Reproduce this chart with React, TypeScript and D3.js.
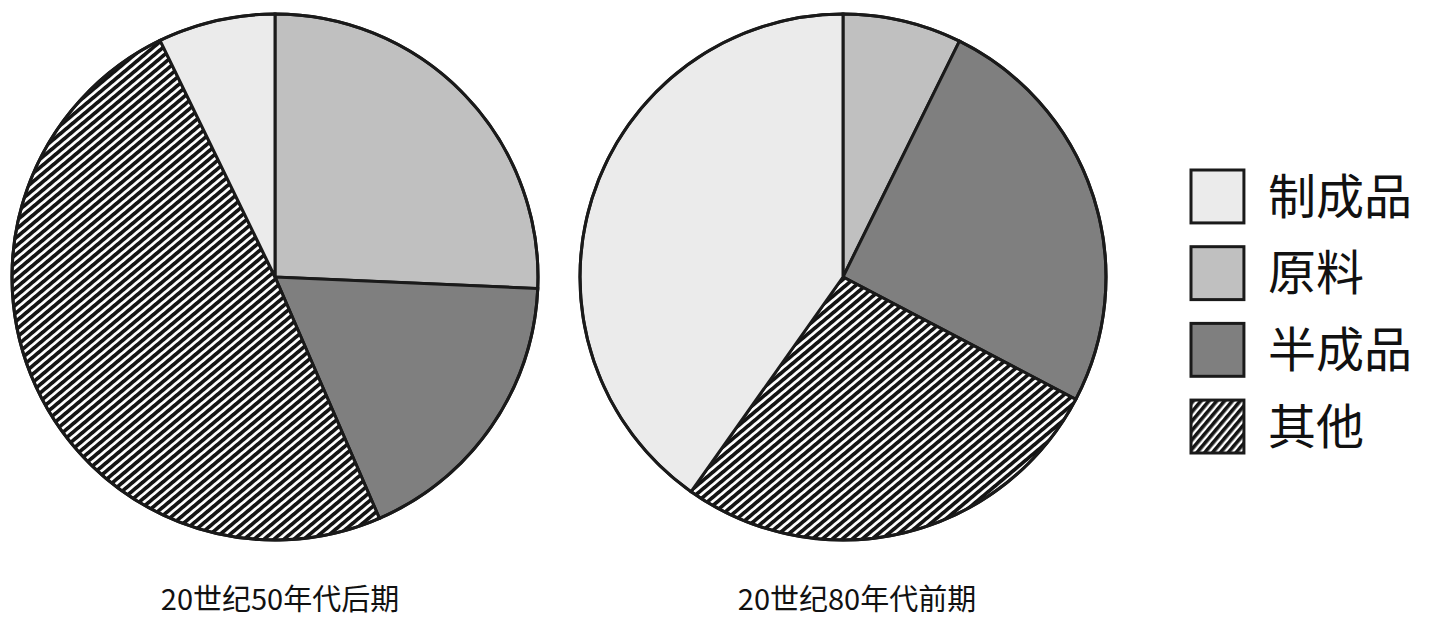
import * as d3 from "d3";

// categories in legend order
const categories = ["制成品", "原料", "半成品", "其他"];
// drawing order (clockwise from 12 o'clock)
const drawOrder = ["原料", "半成品", "其他", "制成品"];

const titles = ["20世纪50年代后期", "20世纪80年代前期"];
const share50s = [7.2, 25.7, 17.8, 49.3]; // by categories
const share80s = [40.2, 7.3, 25.4, 27.1];

const fills: Record<string, string> = {
  "制成品": "#ebebeb",
  "原料": "#c0c0c0",
  "半成品": "#7f7f7f",
  "其他": "url(#hatch)",
};

const W = 1435;
const H = 621;
const R = 263;
const centers = [
  [275, 277],
  [843, 277],
];
const titleX = [280, 857];

function Pie({ values, cx, cy, title, tx }) {
  const rows = drawOrder.map((c) => ({ c, v: values[categories.indexOf(c)] }));
  const pie = d3.pie<any>().sort(null).value((d) => d.v);
  const arc = d3.arc<any>().innerRadius(0).outerRadius(R);
  const arcs = pie(rows);
  return (
    <g>
      <g transform={`translate(${cx},${cy})`}>
        {arcs.map((a) => (
          <path
            key={a.data.c}
            d={arc(a) || ""}
            fill={fills[a.data.c]}
            stroke="#1a1a1a"
            strokeWidth={3}
            strokeLinejoin="miter"
          />
        ))}
        <circle r={R} fill="none" stroke="#1a1a1a" strokeWidth={3} />
      </g>
      <text
        x={tx}
        y={610}
        textAnchor="middle"
        fontFamily="'Noto Sans CJK SC', sans-serif"
        fontSize={29}
        fill="#111"
      >
        {title}
      </text>
    </g>
  );
}

export default function App() {
  const legendY = d3.scaleBand<string>().domain(categories).range([170, 453]).paddingInner(0.31).paddingOuter(0);
  return (
    <svg width={W} height={H} style={{ position: "absolute", left: 0, top: 0, background: "#fff" }}>
      <defs>
        <pattern id="hatch" patternUnits="userSpaceOnUse" width={10} height={6.4} patternTransform="rotate(-40)">
          <rect width={10} height={6.4} fill="#fff" />
          <rect width={10} height={3.7} fill="#141414" />
        </pattern>
        <pattern id="hatchL" patternUnits="userSpaceOnUse" width={10} height={6} patternTransform="rotate(-50)">
          <rect width={10} height={6} fill="#fff" />
          <rect width={10} height={3.6} fill="#141414" />
        </pattern>
      </defs>
      <Pie values={share50s} cx={centers[0][0]} cy={centers[0][1]} title={titles[0]} tx={titleX[0]} />
      <Pie values={share80s} cx={centers[1][0]} cy={centers[1][1]} title={titles[1]} tx={titleX[1]} />
      {categories.map((c) => {
        const y = legendY(c)!;
        const s = legendY.bandwidth();
        return (
          <g key={c}>
            <rect
              x={1191}
              y={y}
              width={s}
              height={s}
              fill={c === "其他" ? "url(#hatchL)" : fills[c]}
              stroke="#1a1a1a"
              strokeWidth={3}
            />
            <text
              x={1268}
              y={y + s / 2}
              dy="0.36em"
              fontFamily="'Noto Sans CJK SC', sans-serif"
              fontSize={48}
              fill="#111"
            >
              {c}
            </text>
          </g>
        );
      })}
    </svg>
  );
}
